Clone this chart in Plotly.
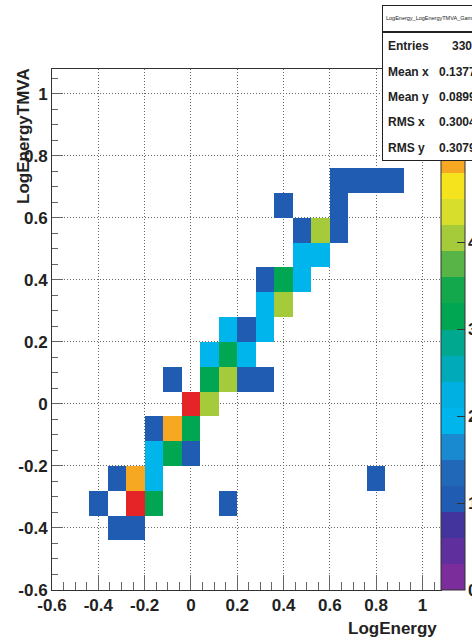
import plotly.graph_objects as go

# ---------------- data ----------------
bin_centers_x = [-0.56, -0.48, -0.40, -0.32, -0.24, -0.16, -0.08, 0.0, 0.08, 0.16, 0.24,
                 0.32, 0.40, 0.48, 0.56, 0.64, 0.72, 0.80, 0.88, 0.96, 1.04]
bin_centers_y = [-0.56, -0.48, -0.40, -0.32, -0.24, -0.16, -0.08, 0.0, 0.08, 0.16, 0.24,
                 0.32, 0.40, 0.48, 0.56, 0.64, 0.72, 0.80, 0.88, 0.96, 1.04]

cell_x = [-0.32, -0.24,
          -0.40, -0.24, -0.16, 0.16,
          -0.32, -0.24, -0.16, 0.80,
          -0.16, -0.08, 0.0,
          -0.16, -0.08, 0.0,
          0.0, 0.08,
          -0.08, 0.08, 0.16, 0.24, 0.32,
          0.08, 0.16, 0.24,
          0.16, 0.24, 0.32,
          0.32, 0.40,
          0.32, 0.40, 0.48,
          0.48, 0.56,
          0.48, 0.56, 0.64,
          0.40, 0.64,
          0.64, 0.72, 0.80, 0.88]
cell_y = [-0.40, -0.40,
          -0.32, -0.32, -0.32, -0.32,
          -0.24, -0.24, -0.24, -0.24,
          -0.16, -0.16, -0.16,
          -0.08, -0.08, -0.08,
          0.0, 0.0,
          0.08, 0.08, 0.08, 0.08, 0.08,
          0.16, 0.16, 0.16,
          0.24, 0.24, 0.24,
          0.32, 0.32,
          0.40, 0.40, 0.40,
          0.48, 0.48,
          0.56, 0.56, 0.56,
          0.64, 0.64,
          0.72, 0.72, 0.72, 0.72]
cell_count = [1, 1,
              1, 6, 3, 1,
              1, 5, 2, 1,
              2, 3, 1,
              1, 5, 3,
              6, 4,
              1, 3, 4, 1, 1,
              2, 3, 2,
              2, 1, 2,
              2, 4,
              1, 3, 2,
              2, 2,
              1, 4, 1,
              1, 1,
              1, 1, 1, 1]

x_tick_vals = [-0.6, -0.4, -0.2, 0, 0.2, 0.4, 0.6, 0.8, 1.0]
x_tick_text = ["-0.6", "-0.4", "-0.2", "0", "0.2", "0.4", "0.6", "0.8", "1"]
y_tick_vals = [-0.6, -0.4, -0.2, 0, 0.2, 0.4, 0.6, 0.8, 1.0]
y_tick_text = ["-0.6", "-0.4", "-0.2", "0", "0.2", "0.4", "0.6", "0.8", "1"]
z_tick_vals = [0, 1, 2, 3, 4, 5, 6]
z_tick_text = ["0", "1", "2", "3", "4", "5", "6"]
z_min, z_max = 0, 6

stats_title = "LogEnergy_LogEnergyTMVA_Gamma_C"
stats_labels = ["Entries", "Mean x", "Mean y", "RMS x", "RMS y"]
stats_values = ["330", "0.1377", "0.0899", "0.3004", "0.3079"]

# ---------------- build matrix ----------------
nx, ny = len(bin_centers_x), len(bin_centers_y)
z = [[None] * nx for _ in range(ny)]
for cx, cy, c in zip(cell_x, cell_y, cell_count):
    ix = min(range(nx), key=lambda i: abs(bin_centers_x[i] - cx))
    iy = min(range(ny), key=lambda j: abs(bin_centers_y[j] - cy))
    z[iy][ix] = c

band_colors = ["#7b2d9c", "#5f2f9e", "#42349c", "#1f5cb2", "#2268b8",
               "#1a8ad0", "#00b4ec", "#00b0e2", "#00aab8", "#00a890",
               "#00a651", "#14a84c", "#58b446", "#a5ca3a", "#d8de2c",
               "#f5e31d", "#f6a823", "#f48a22", "#ee5a25", "#e52428"]
nb = len(band_colors)
colorscale = []
for i, col in enumerate(band_colors):
    colorscale.append([i / nb, col])
    colorscale.append([(i + 1) / nb, col])

W, H = 472, 641
ML, MR, MT, MB = 52, 31, 69, 51
PW, PH = W - ML - MR, H - MT - MB


def px2x(wx):
    return (wx - ML) / PW


def py2y(wy):
    return (H - MB - wy) / PH


FONT = "Liberation Sans, Arial, Helvetica, sans-serif"

fig = go.Figure()
fig.add_trace(go.Heatmap(
    x=bin_centers_x, y=bin_centers_y, z=z,
    zmin=z_min, zmax=z_max, colorscale=colorscale, hoverongaps=False,
    colorbar=dict(
        x=1.0, xanchor="left", xpad=0, y=0.5, yanchor="middle", ypad=0,
        len=1.0, lenmode="fraction", thickness=24, thicknessmode="pixels",
        outlinewidth=1, outlinecolor="#333",
        tickmode="array", tickvals=z_tick_vals, ticktext=z_tick_text,
        ticks="inside", ticklen=8, tickcolor="#333", showticklabels=False,
    ),
))

axis_common = dict(
    showline=True, linecolor="#333", linewidth=1, mirror=True,
    ticks="inside", tickcolor="#666", tickwidth=1,
    showgrid=True, gridcolor="#666", griddash="1px,2px", gridwidth=1,
    zeroline=False,
    tickfont=dict(family=FONT, size=17, color="#222", weight="bold"),
    tickmode="array",
)

fig.update_xaxes(range=[-0.6, 1.08], tickvals=x_tick_vals, ticktext=x_tick_text,
                 ticklen=15,
                 minor=dict(dtick=0.05, tick0=-0.6, ticks="inside", ticklen=8,
                            tickcolor="#666", showgrid=False),
                 **axis_common)
fig.update_yaxes(range=[-0.6, 1.08], tickvals=y_tick_vals, ticktext=y_tick_text,
                 ticklen=11,
                 minor=dict(dtick=0.05, tick0=-0.6, ticks="inside", ticklen=6,
                            tickcolor="#666", showgrid=False),
                 **axis_common)

annotations = []
# colour-bar labels (drawn as annotations so the stats box can cover the top ones)
for v, t in zip(z_tick_vals, z_tick_text):
    annotations.append(dict(text=t, xref="paper", yref="paper", x=px2x(466),
                            y=(v - z_min) / (z_max - z_min),
                            xanchor="left", yanchor="middle", showarrow=False,
                            font=dict(family=FONT, size=17, color="#222", weight="bold")))

BOX_L, BOX_R = 382, 500
annotations += [
    # stats box: header part and body part (annotations sit above the colour bar)
    dict(text=" ", xref="paper", yref="paper", x=px2x(BOX_L), y=py2y(5),
         xanchor="left", yanchor="top", showarrow=False,
         width=BOX_R - BOX_L - 2, height=27 - 2, borderpad=0,
         bgcolor="white", bordercolor="#222", borderwidth=1),
    dict(text=" ", xref="paper", yref="paper", x=px2x(BOX_L), y=py2y(32),
         xanchor="left", yanchor="top", showarrow=False,
         width=BOX_R - BOX_L - 2, height=161 - 32 - 2, borderpad=0,
         bgcolor="white", bordercolor="#222", borderwidth=1),
    dict(text=stats_title, xref="paper", yref="paper", x=px2x(384), y=py2y(18),
         xanchor="left", yanchor="middle", showarrow=False,
         font=dict(family=FONT, size=5.5, color="#222")),
    dict(text="LogEnergy", xref="paper", yref="paper", x=px2x(439), y=py2y(628),
         xanchor="right", yanchor="middle", showarrow=False,
         font=dict(family=FONT, size=17, color="#222", weight="bold")),
    dict(text="LogEnergyTMVA", xref="paper", yref="paper", x=px2x(23), y=py2y(66),
         xanchor="center", yanchor="top", textangle=-90, showarrow=False,
         font=dict(family=FONT, size=17, color="#222", weight="bold")),
]
row_y = [46, 72, 97, 122, 148]
val_x = [450, 437, 437, 437, 437]
for lab, val, ry, vx in zip(stats_labels, stats_values, row_y, val_x):
    annotations.append(dict(text=lab, xref="paper", yref="paper", x=px2x(386), y=py2y(ry),
                            xanchor="left", yanchor="middle", showarrow=False,
                            font=dict(family=FONT, size=12, color="#222", weight="bold")))
    annotations.append(dict(text=val, xref="paper", yref="paper", x=px2x(vx), y=py2y(ry),
                            xanchor="left", yanchor="middle", showarrow=False,
                            font=dict(family=FONT, size=12, color="#222", weight="bold")))

fig.update_layout(
    width=W, height=H,
    margin=dict(l=ML, r=MR, t=MT, b=MB, pad=0, autoexpand=False),
    paper_bgcolor="white", plot_bgcolor="white",
    showlegend=False,
    annotations=annotations,
)

fig.write_html(
    "out.html",
    config={"displayModeBar": False},
    post_script="document.body.style.margin='0';document.body.style.overflow='hidden';",
)
